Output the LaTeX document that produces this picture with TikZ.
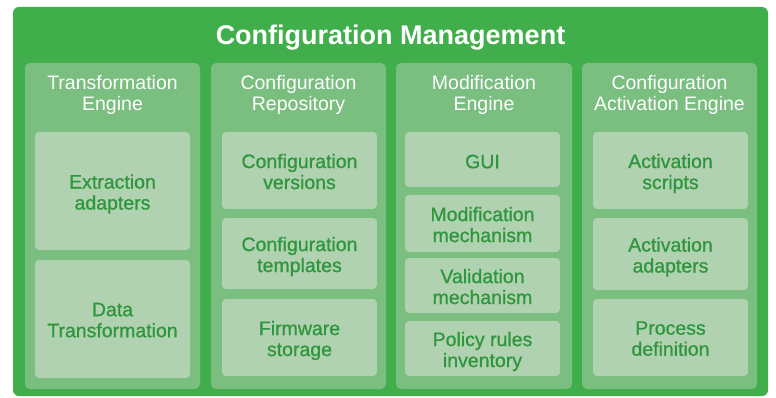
\documentclass[tikz,border=0pt]{standalone}
\usepackage{fontspec}
\setmainfont{Liberation Sans}
\newfontfamily\medfont[FakeBold=0.8]{Liberation Sans}
\definecolor{outerg}{RGB}{64,174,74}
\definecolor{colg}{RGB}{122,190,128}
\definecolor{inng}{RGB}{176,210,176}
\definecolor{txtg}{RGB}{46,150,60}
\begin{document}
\begin{tikzpicture}[x=1pt,y=-1pt,
  outerbox/.style={fill=outerg, rounded corners=6pt},
  colbox/.style={fill=colg, rounded corners=5pt},
  inbox/.style={fill=inng, rounded corners=4pt, inner sep=0pt, minimum width=155pt},
  intext/.style={inner sep=0pt, text depth=0pt, align=center, text=txtg, font=\medfont\fontsize{19.5}{21}\selectfont},
  titletext/.style={text=white, font=\bfseries\fontsize{27}{32}\selectfont, inner sep=0pt},
  headtext/.style={text=white, align=center, inner sep=0pt, text depth=0pt, font=\fontsize{19.5}{21}\selectfont}]
\useasboundingbox (0,0) rectangle (776,398);
\fill[white] (0,0) rectangle (776,398);
\fill[outerbox] (13,7) rectangle (768,396);
\node[titletext, anchor=base] (title) at (390.5,45) {Configuration Management};
% columns
\fill[colbox] (25,63) rectangle (200,389);
\fill[colbox] (211,63) rectangle (386,389);
\fill[colbox] (396,63) rectangle (572,389);
\fill[colbox] (582,63) rectangle (757,389);
\node[headtext] (h1) at (112.5,92.5) {Transformation\\Engine};
\node[headtext] (h2) at (298.5,92.5) {Configuration\\Repository};
\node[headtext] (h3) at (484,92.5) {Modification\\Engine};
\node[headtext] (h4) at (669.5,92.5) {Configuration\\Activation Engine};
% column 1
\node[inbox, minimum height=118pt] (c1a) at (112.5,191) {};
\node[inbox, minimum height=118pt] (c1b) at (112.5,319) {};
% column 2
\node[inbox, minimum height=77pt] (c2a) at (299.5,170.5) {};
\node[inbox, minimum height=71pt] (c2b) at (299.5,253.5) {};
\node[inbox, minimum height=77pt] (c2c) at (299.5,337.5) {};
% column 3
\node[inbox, minimum height=55pt] (c3a) at (482.5,159.5) {};
\node[inbox, minimum height=57pt] (c3b) at (482.5,223.5) {};
\node[inbox, minimum height=55pt] (c3c) at (482.5,285.5) {};
\node[inbox, minimum height=55pt] (c3d) at (482.5,348.5) {};
% column 4
\node[inbox, minimum height=77pt] (c4a) at (670.5,170.5) {};
\node[inbox, minimum height=72pt] (c4b) at (670.5,254) {};
\node[inbox, minimum height=77pt] (c4c) at (670.5,337.5) {};
% texts
\node[intext] (t1a) at ([yshift=-1pt]c1a.center) {Extraction\\adapters};
\node[intext] (t1b) at ([yshift=-1pt]c1b.center) {Data\\Transformation};
\node[intext] (t2a) at ([yshift=-1pt]c2a.center) {Configuration\\versions};
\node[intext] (t2b) at ([yshift=-1pt]c2b.center) {Configuration\\templates};
\node[intext] (t2c) at ([yshift=-1pt]c2c.center) {Firmware\\storage};
\node[intext] (t3a) at ([yshift=-2pt]c3a.center) {GUI};
\node[intext] (t3b) at ([yshift=-1pt]c3b.center) {Modification\\mechanism};
\node[intext] (t3c) at ([yshift=-1pt]c3c.center) {Validation\\mechanism};
\node[intext] (t3d) at ([yshift=-1pt]c3d.center) {Policy rules\\inventory};
\node[intext] (t4a) at ([yshift=-1pt]c4a.center) {Activation\\scripts};
\node[intext] (t4b) at ([yshift=-1pt]c4b.center) {Activation\\adapters};
\node[intext] (t4c) at ([yshift=-1pt]c4c.center) {Process\\definition};
\end{tikzpicture}
\end{document}
